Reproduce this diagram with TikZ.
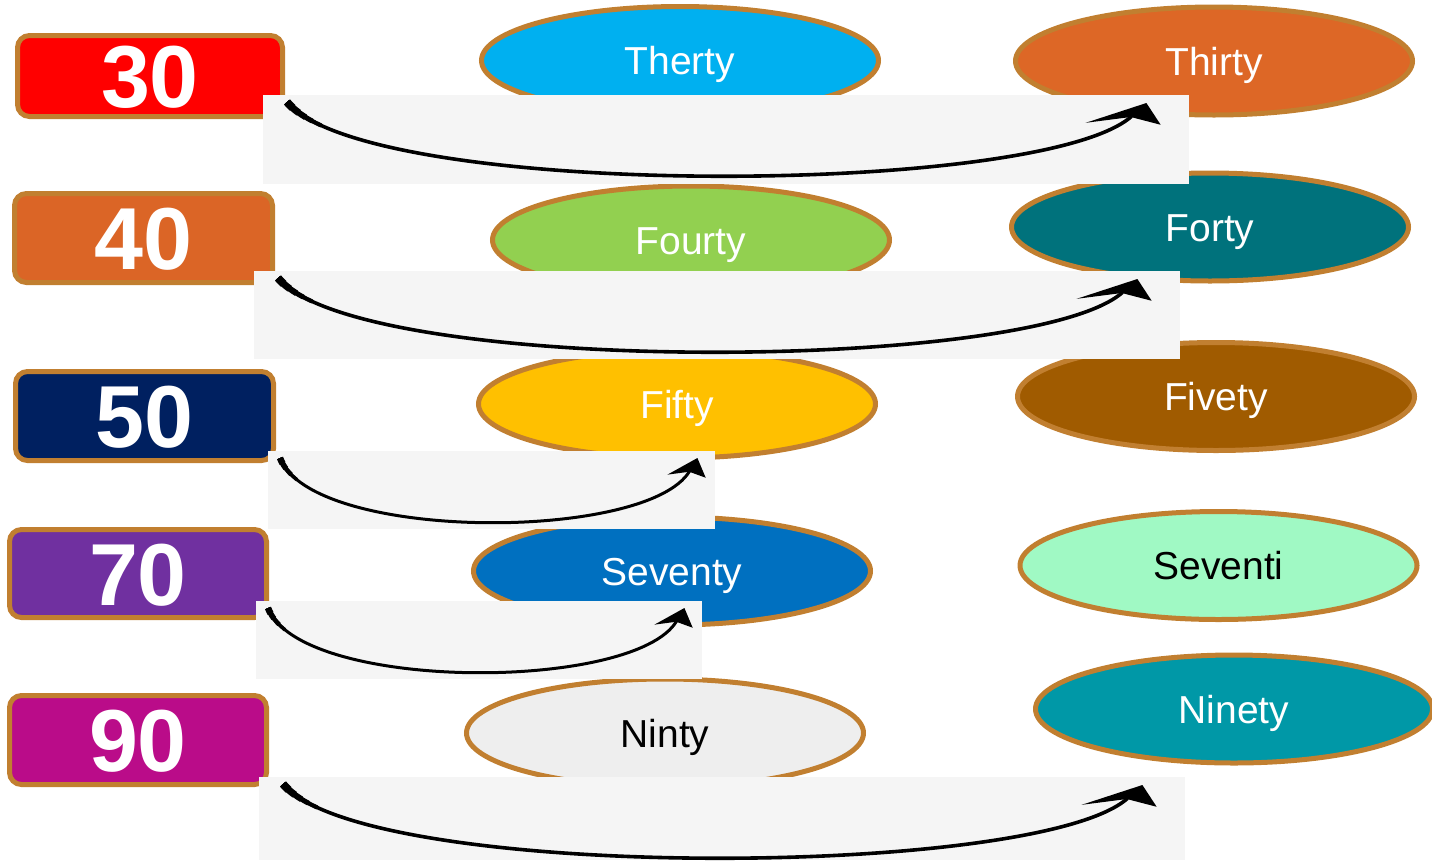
\documentclass[tikz,border=0pt]{standalone}
\usepackage{fontspec}
\setmainfont{Liberation Sans}
\usetikzlibrary{arrows.meta,shapes.geometric,calc}

\definecolor{rim}{HTML}{C17F30}
\definecolor{stripgray}{HTML}{F5F5F5}
\definecolor{boxred}{HTML}{FF0000}
\definecolor{boxorange}{HTML}{DB6526}
\definecolor{boxnavy}{HTML}{002060}
\definecolor{boxpurple}{HTML}{7030A0}
\definecolor{boxmagenta}{HTML}{BA0C89}
\definecolor{ovalcyan}{HTML}{00B0F0}
\definecolor{ovalgreen}{HTML}{92D050}
\definecolor{ovalgold}{HTML}{FFC000}
\definecolor{ovalblue}{HTML}{0070C0}
\definecolor{ovalgray}{HTML}{EEEEEE}
\definecolor{ovalorange}{HTML}{DD6726}
\definecolor{ovalteal}{HTML}{00727C}
\definecolor{ovalbrown}{HTML}{A05B00}
\definecolor{ovalmint}{HTML}{A0F9C4}
\definecolor{ovalsea}{HTML}{0098A7}

\tikzset{
  numbox/.style={draw=rim, line width=5pt, rounded corners=12pt, inner sep=0pt,
    text=white, font=\fontsize{88}{96}\selectfont\bfseries,
    text height=63pt, text depth=0pt},
  wordoval/.style={ellipse, draw=rim, line width=5pt, inner sep=0pt,
    minimum width=397pt, minimum height=108pt, font=\fontsize{39}{44}\selectfont,
    text height=28pt, text depth=0pt},
  strip/.style={fill=stripgray, inner sep=0pt, anchor=north west},
  longarrow/.style={line width=3.6pt,
    -{Stealth[length=31pt, width=51pt, inset=10pt, slant=-1.06]}},
  shortarrow/.style={line width=3pt,
    -{Stealth[length=21pt, width=34pt, inset=5pt, slant=-0.49]}},
  taper/.style={line width=#1pt},
}

\begin{document}
\begin{tikzpicture}[x=1pt, y=-1pt]
  \useasboundingbox (0,0) rectangle (1432,860);
  % number boxes
  \foreach \lnum/\lx/\ly/\lw/\lh/\lcol in {30/150/76/265/81/boxred,
      40/143.5/238/258/89/boxorange, 50/144.5/416/258/89/boxnavy,
      70/138/573.5/257/88/boxpurple, 90/138/740/257/89/boxmagenta} {
    \node[numbox, fill=\lcol, minimum width=\lw pt, minimum height=\lh pt]
      (num-\lnum) at (\lx,\ly) {\lnum};
  }
  % spelled words
  \foreach \lword/\lx/\ly/\lcol/\ltxt in {Therty/680/60.5/ovalcyan/white,
      Fourty/691/240/ovalgreen/white, Fifty/677/404/ovalgold/white,
      Seventy/672/571/ovalblue/white, Ninty/665/733/ovalgray/black,
      Thirty/1214/61/ovalorange/white, Forty/1210/227/ovalteal/white,
      Fivety/1216/396.5/ovalbrown/white, Seventi/1218.5/565.5/ovalmint/black,
      Ninety/1234/709/ovalsea/white} {
    \node[wordoval, fill=\lcol, text=\ltxt] (w-\lword) at (\lx,\ly) {\lword};
  }
  % arrow strips
  \foreach \i/\sx/\sy/\sw/\sh in {1/263/95/926/89, 2/254/271/926/88,
      3/268/451/447/78, 4/256/601/446/78, 5/259/777/926/83} {
    \node[strip, minimum width=\sw pt, minimum height=\sh pt] (strip-\i) at (\sx,\sy) {};
  }
  \foreach \i in {1,2,5} {
    \coordinate (from-\i) at ($(strip-\i.north west)+(24,7)$);
    \coordinate (to-\i) at ($(strip-\i.north east)+(-43,8)$);
    \draw[longarrow] (from-\i) .. controls +(81,98) and +(-105,94) .. (to-\i);
    \foreach \tw/\tl in {8/8,7/16,6/24,5/32,4.2/42}
      \draw[taper=\tw, dash pattern=on \tl pt off 3000pt]
        (from-\i) .. controls +(81,98) and +(-105,94) .. (to-\i);
  }
  \foreach \i in {3,4} {
    \coordinate (from-\i) at ($(strip-\i.north west)+(12,7)$);
    \coordinate (to-\i) at ($(strip-\i.north east)+(-18,7)$);
    \draw[shortarrow] (from-\i) .. controls +(32,84) and +(-50,84) .. (to-\i);
    \foreach \tw/\tl in {6.5/6,5.5/12,4.5/20,3.6/28}
      \draw[taper=\tw, dash pattern=on \tl pt off 3000pt]
        (from-\i) .. controls +(32,84) and +(-50,84) .. (to-\i);
  }
\end{tikzpicture}
\end{document}
